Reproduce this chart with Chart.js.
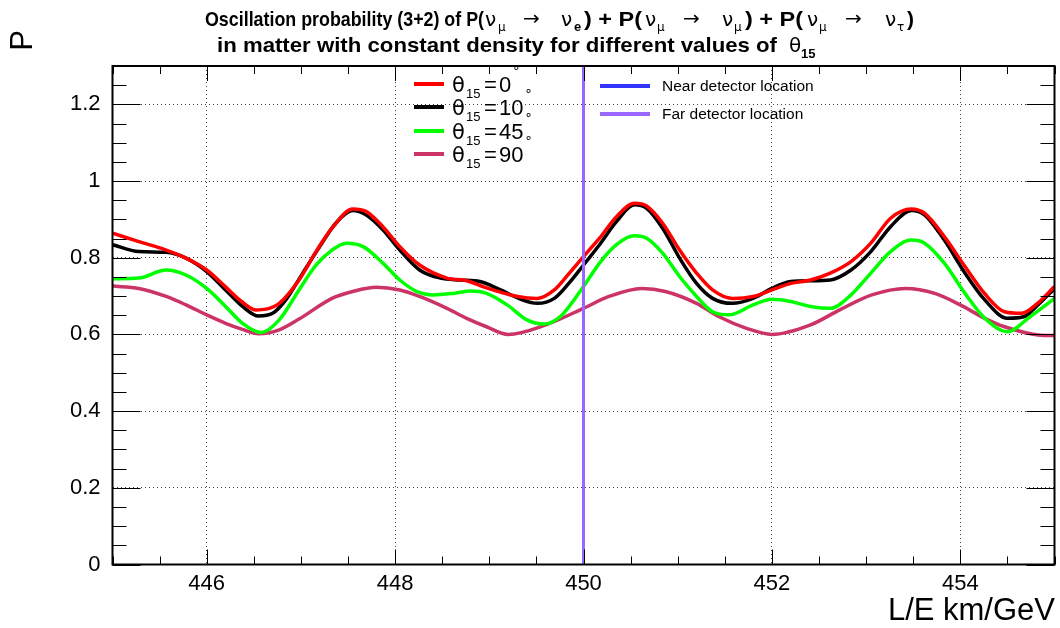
<!DOCTYPE html>
<html>
<head>
<meta charset="utf-8">
<script src="https://cdn.jsdelivr.net/npm/chart.js@4.4.1/dist/chart.umd.min.js"></script>
<style>
  html, body { margin: 0; padding: 0; background: #ffffff; }
  #c { display: block; }
</style>
</head>
<body>
<canvas id="c" width="1060" height="628"></canvas>
<script>
// ---------------- DATA ----------------
const xTicks = [446, 448, 450, 452, 454];
const yTickLabels = ['0', '0.2', '0.4', '0.6', '0.8', '1', '1.2'];

const seriesNames = ['\u03b8_15 = 0', '\u03b8_15 = 10', '\u03b8_15 = 45', '\u03b8_15 = 90'];
const legendNumbers = ['0', '10', '45', '90'];

const xTheta0 = [445.0, 445.28, 445.57, 445.78, 446.0, 446.2, 446.35, 446.52, 446.63, 446.77, 446.98, 447.16, 447.33, 447.55, 447.69, 447.87, 448.05, 448.26, 448.55, 448.76, 448.94, 449.3, 449.51, 449.69, 449.85, 450.0, 450.17, 450.35, 450.54, 450.67, 450.84, 451.02, 451.2, 451.37, 451.58, 451.8, 452.0, 452.2, 452.41, 452.62, 452.84, 453.05, 453.26, 453.48, 453.62, 453.83, 454.05, 454.26, 454.47, 454.65, 454.82, 455.0];
const yTheta0 = [0.864, 0.842, 0.820, 0.799, 0.768, 0.724, 0.690, 0.664, 0.666, 0.681, 0.742, 0.816, 0.877, 0.927, 0.921, 0.881, 0.829, 0.781, 0.747, 0.740, 0.724, 0.699, 0.694, 0.716, 0.760, 0.803, 0.851, 0.907, 0.942, 0.935, 0.890, 0.820, 0.760, 0.716, 0.694, 0.699, 0.716, 0.733, 0.742, 0.760, 0.790, 0.838, 0.903, 0.927, 0.916, 0.855, 0.777, 0.706, 0.659, 0.655, 0.681, 0.725];

const xTheta10 = [445.0, 445.28, 445.57, 445.78, 446.0, 446.2, 446.38, 446.55, 446.7, 446.84, 447.02, 447.2, 447.37, 447.55, 447.69, 447.87, 448.05, 448.26, 448.48, 448.69, 448.9, 449.12, 449.33, 449.51, 449.69, 449.85, 450.0, 450.17, 450.35, 450.54, 450.67, 450.84, 451.02, 451.2, 451.37, 451.58, 451.8, 452.0, 452.2, 452.41, 452.62, 452.84, 453.05, 453.26, 453.48, 453.62, 453.83, 454.05, 454.26, 454.5, 454.67, 454.84, 455.0];
const yTheta10 = [0.834, 0.816, 0.814, 0.799, 0.764, 0.716, 0.673, 0.648, 0.655, 0.690, 0.760, 0.829, 0.890, 0.923, 0.912, 0.873, 0.820, 0.768, 0.747, 0.742, 0.738, 0.716, 0.692, 0.681, 0.694, 0.735, 0.781, 0.834, 0.894, 0.938, 0.929, 0.877, 0.799, 0.733, 0.694, 0.681, 0.694, 0.720, 0.738, 0.740, 0.742, 0.768, 0.816, 0.881, 0.923, 0.912, 0.846, 0.760, 0.690, 0.642, 0.646, 0.681, 0.720];

const xTheta45 = [445.0, 445.28, 445.57, 445.78, 446.0, 446.2, 446.38, 446.58, 446.77, 446.98, 447.16, 447.33, 447.48, 447.66, 447.87, 448.05, 448.23, 448.4, 448.62, 448.8, 448.97, 449.19, 449.4, 449.58, 449.76, 450.0, 450.17, 450.35, 450.54, 450.67, 450.84, 451.02, 451.2, 451.37, 451.55, 451.8, 452.0, 452.2, 452.41, 452.62, 452.84, 453.05, 453.26, 453.48, 453.62, 453.83, 454.05, 454.26, 454.5, 454.74, 455.0];
const yTheta45 = [0.745, 0.747, 0.768, 0.755, 0.720, 0.673, 0.629, 0.605, 0.638, 0.716, 0.781, 0.820, 0.838, 0.829, 0.786, 0.742, 0.712, 0.703, 0.707, 0.713, 0.707, 0.677, 0.638, 0.627, 0.648, 0.725, 0.786, 0.834, 0.857, 0.851, 0.812, 0.751, 0.699, 0.659, 0.651, 0.677, 0.692, 0.686, 0.673, 0.668, 0.703, 0.760, 0.816, 0.846, 0.838, 0.786, 0.707, 0.642, 0.607, 0.646, 0.694];

const xTheta90 = [445.0, 445.28, 445.57, 445.78, 446.0, 446.2, 446.38, 446.55, 446.77, 446.98, 447.33, 447.55, 447.8, 448.05, 448.26, 448.55, 448.76, 448.97, 449.2, 449.6, 450.0, 450.27, 450.62, 450.87, 451.2, 451.44, 451.73, 452.0, 452.41, 452.72, 453.06, 453.42, 453.73, 454.0, 454.26, 454.47, 454.85, 455.0];
const yTheta90 = [0.726, 0.720, 0.699, 0.677, 0.651, 0.629, 0.613, 0.602, 0.612, 0.640, 0.694, 0.712, 0.723, 0.716, 0.699, 0.668, 0.642, 0.620, 0.600, 0.625, 0.668, 0.699, 0.720, 0.712, 0.681, 0.646, 0.616, 0.600, 0.625, 0.664, 0.703, 0.720, 0.707, 0.677, 0.642, 0.620, 0.598, 0.597];

const farDetectorX = [450, 450];
const farDetectorY = [0, 1.3];

// ---------------- helpers ----------------
function pts(xs, ys) { return xs.map((x, i) => ({ x: x, y: ys[i] })); }

const FONT = '"Liberation Sans", Arial, Helvetica, sans-serif';
const GREEK = '"DejaVu Sans", "Liberation Sans", sans-serif';

function drawFit(ctx, text, x, y, font, width) {
  ctx.save();
  ctx.font = font;
  const w = ctx.measureText(text).width;
  const s = width ? width / w : 1;
  ctx.translate(x, y);
  ctx.scale(s, 1);
  ctx.fillText(text, 0, 0);
  ctx.restore();
}

const decor = {
  id: 'decor',
  beforeDraw(chart) {
    const ctx = chart.ctx;
    ctx.save();
    ctx.fillStyle = '#ffffff';
    ctx.fillRect(0, 0, chart.width, chart.height);
    ctx.restore();
  },
  afterDraw(chart) {
    const ctx = chart.ctx;
    const a = chart.chartArea;
    const xs = chart.scales.x, ys = chart.scales.y;
    ctx.save();
    ctx.strokeStyle = '#000';
    ctx.lineWidth = 1;
    // ticks (inside)
    ctx.beginPath();
    for (let v = 445; v <= 455.001; v += 0.5) {
      const p = Math.round(xs.getPixelForValue(v)) + 0.5;
      const major = Math.abs(v / 2 - Math.round(v / 2)) < 1e-6;
      const L = major ? 15 : 8;
      ctx.moveTo(p, a.bottom); ctx.lineTo(p, a.bottom - L);
      ctx.moveTo(p, a.top); ctx.lineTo(p, a.top + L);
    }
    for (let k = 0; k <= 26; k++) {
      const v = k * 0.05;
      const p = Math.round(ys.getPixelForValue(v)) + 0.5;
      const L = (k % 4 === 0) ? 28 : 14;
      ctx.moveTo(a.left, p); ctx.lineTo(a.left + L, p);
      ctx.moveTo(a.right, p); ctx.lineTo(a.right - L, p);
    }
    ctx.stroke();
    // frame
    ctx.lineWidth = 2;
    ctx.strokeRect(a.left, a.top, a.right - a.left, a.bottom - a.top);

    // ---- title ----
    ctx.fillStyle = '#000';
    ctx.textBaseline = 'alphabetic';
    ctx.textAlign = 'left';
    const B = 'bold 21px ' + FONT;
    const Bs = 'bold 13px ' + FONT;
    const G = '20px ' + GREEK;
    const Gs = '12px ' + GREEK;
    const AR = '20px ' + GREEK;
    const y1 = 26, y2 = 52;
    drawFit(ctx, 'Oscillation probability (3+2) of P(', 205, y1, B, 279);
    drawFit(ctx, '\u03bd', 485, y1, G);
    drawFit(ctx, '\u03bc', 498, y1 + 5, Gs);
    drawFit(ctx, '\u2192', 523, y1 - 1, AR);
    drawFit(ctx, '\u03bd', 561, y1, G);
    drawFit(ctx, 'e', 574, y1 + 5, Bs);
    drawFit(ctx, ') + P(', 584, y1, B, 58);
    drawFit(ctx, '\u03bd', 645, y1, G);
    drawFit(ctx, '\u03bc', 657, y1 + 5, Gs);
    drawFit(ctx, '\u2192', 683, y1 - 1, AR);
    drawFit(ctx, '\u03bd', 722, y1, G);
    drawFit(ctx, '\u03bc', 734, y1 + 5, Gs);
    drawFit(ctx, ') + P(', 745, y1, B, 58);
    drawFit(ctx, '\u03bd', 807, y1, G);
    drawFit(ctx, '\u03bc', 819, y1 + 5, Gs);
    drawFit(ctx, '\u2192', 845, y1 - 1, AR);
    drawFit(ctx, '\u03bd', 885, y1, G);
    drawFit(ctx, '\u03c4', 897, y1 + 5, Gs);
    drawFit(ctx, ')', 907, y1, B);
    drawFit(ctx, 'in matter with constant density for different values of', 217, y2, B, 560);
    drawFit(ctx, '\u03b8', 789, y2, G);
    drawFit(ctx, '15', 801, y2 + 6, Bs);

    // ---- axis titles ----
    ctx.font = '31px ' + FONT;
    ctx.textAlign = 'right';
    ctx.fillText('L/E km/GeV', 1055, 620);
    ctx.save();
    ctx.translate(32, 30);
    ctx.rotate(-Math.PI / 2);
    ctx.textAlign = 'right';
    ctx.fillText('P', 0, 0);
    ctx.restore();

    // ---- legend 1 ----
    ctx.textAlign = 'left';
    const legY = [84, 107, 131, 154];
    chart.data.datasets.slice(1, 5).forEach((ds, i) => {
      const yy = legY[i];
      ctx.strokeStyle = ds.borderColor;
      ctx.lineWidth = 4;
      ctx.beginPath(); ctx.moveTo(414, yy); ctx.lineTo(444, yy); ctx.stroke();
      ctx.fillStyle = '#000';
      drawFit(ctx, '\u03b8', 452, yy + 8, '21px ' + GREEK);
      drawFit(ctx, '15', 466, yy + 14, '13px ' + FONT);
      ctx.font = '22px ' + FONT;
      ctx.fillText('=', 484, yy + 8);
      const t = legendNumbers[i];
      ctx.fillText(t, 499, yy + 8);
      const w = ctx.measureText(t).width;
      drawFit(ctx, '\u2218', 499 + w + 1, yy - 12, '13px ' + GREEK);
    });
    // ---- legend 2 ----
    const leg2 = [['#3333ff', 'Near detector location', 86], ['#9966ff', 'Far detector location', 114]];
    leg2.forEach(([c, t, yy]) => {
      ctx.strokeStyle = c;
      ctx.lineWidth = 4;
      ctx.beginPath(); ctx.moveTo(600, yy); ctx.lineTo(650, yy); ctx.stroke();
      ctx.fillStyle = '#000';
      ctx.font = '15.5px ' + FONT;
      ctx.fillText(t, 662, yy + 5);
    });
    ctx.restore();
  }
};

const lineDs = (label, xs, ys, color) => ({
  label: label,
  data: pts(xs, ys),
  borderColor: color,
  backgroundColor: color,
  borderWidth: 3.5,
  pointRadius: 0,
  fill: false,
  cubicInterpolationMode: 'monotone'
});

new Chart(document.getElementById('c'), {
  type: 'line',
  data: {
    datasets: [
      { label: 'Far detector location', data: pts(farDetectorX, farDetectorY), borderColor: '#9966ff', borderWidth: 3, pointRadius: 0, fill: false },
      lineDs(seriesNames[0], xTheta0, yTheta0, '#ff0000'),
      lineDs(seriesNames[1], xTheta10, yTheta10, '#000000'),
      lineDs(seriesNames[2], xTheta45, yTheta45, '#00ff00'),
      lineDs(seriesNames[3], xTheta90, yTheta90, '#cc3366')
    ]
  },
  options: {
    responsive: false,
    animation: false,
    devicePixelRatio: 1,
    layout: { padding: { left: 0, right: 5.5, top: 66, bottom: 0 } },
    plugins: { legend: { display: false }, title: { display: false }, tooltip: { enabled: false } },
    scales: {
      x: {
        type: 'linear', min: 445, max: 455,
        afterFit(s) { s.height = 63.5; },
        afterBuildTicks(s) { s.ticks = xTicks.map(v => ({ value: v })); },
        ticks: { font: { family: FONT, size: 22 }, color: '#000', padding: 6, maxRotation: 0,
                 callback: v => String(v) },
        grid: { color: '#444', lineWidth: 1, drawTicks: false },
        border: { display: false, dash: [1, 3] }
      },
      y: {
        type: 'linear', min: 0, max: 1.3,
        afterFit(s) { s.width = 112.5; },
        afterBuildTicks(s) { s.ticks = yTickLabels.map(t => ({ value: parseFloat(t) })); },
        ticks: { font: { family: FONT, size: 22 }, color: '#000', padding: 12,
                 callback: (v, i) => yTickLabels[i] },
        grid: { color: '#444', lineWidth: 1, drawTicks: false },
        border: { display: false, dash: [1, 3] }
      }
    }
  },
  plugins: [decor]
});
</script>
</body>
</html>
